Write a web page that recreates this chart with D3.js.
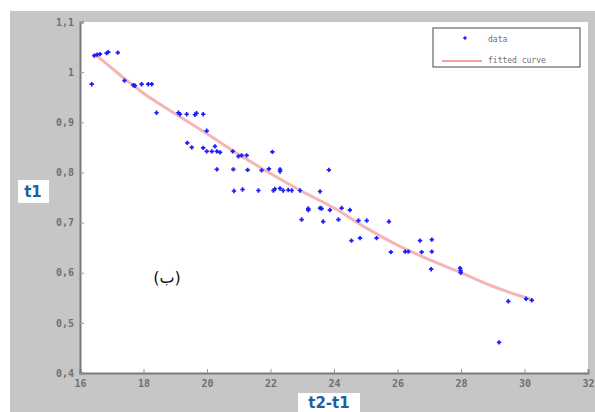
<!DOCTYPE html>
<html>
<head>
<meta charset="utf-8">
<script src="https://cdn.jsdelivr.net/npm/d3@7"></script>
<style>
  html, body { margin: 0; padding: 0; background: #fff; }
  svg { display: block; }
</style>
</head>
<body>
<div id="chart"></div>
<script>
// measured points (t2-t1, t1)
const dataX = [16.37, 16.45, 16.54, 16.63, 16.84, 16.89, 17.19, 17.40, 17.68, 17.73, 17.94, 18.15, 18.26,
    18.41, 19.10, 19.15, 19.36, 19.62, 19.67, 19.88, 19.99, 19.38, 19.52, 19.88, 19.99, 20.15, 20.25, 20.31,
    20.41, 20.81, 20.99, 21.25, 21.09, 20.31, 20.83, 21.28, 20.85, 21.12, 22.06, 21.72, 21.95, 22.30, 22.30,
    23.84, 21.62, 22.09, 22.14, 22.30, 22.40, 22.56, 22.67, 22.93, 23.56, 23.19, 23.19, 23.56, 23.61, 23.87,
    24.24, 24.50, 22.98, 23.66, 24.14, 24.77, 25.03, 25.73, 24.55, 24.82, 25.34, 25.79, 26.24, 26.34, 26.71,
    27.08, 26.76, 27.08, 27.06, 27.97, 27.99, 27.99, 29.49, 29.20, 30.05, 30.23];
const dataY = [0.976, 1.033, 1.035, 1.036, 1.038, 1.040, 1.039, 0.983, 0.974, 0.973, 0.976, 0.976, 0.976,
    0.919, 0.919, 0.916, 0.916, 0.915, 0.918, 0.916, 0.883, 0.859, 0.850, 0.849, 0.842, 0.842, 0.852, 0.842,
    0.840, 0.842, 0.832, 0.834, 0.834, 0.806, 0.806, 0.805, 0.763, 0.766, 0.841, 0.804, 0.807, 0.806, 0.802,
    0.805, 0.764, 0.764, 0.767, 0.768, 0.764, 0.765, 0.764, 0.764, 0.762, 0.728, 0.725, 0.729, 0.728, 0.725,
    0.729, 0.725, 0.706, 0.702, 0.706, 0.704, 0.704, 0.702, 0.664, 0.669, 0.669, 0.641, 0.642, 0.642, 0.664,
    0.666, 0.641, 0.642, 0.607, 0.609, 0.604, 0.600, 0.543, 0.461, 0.548, 0.545];

// fitted curve
const fitX = [16.5, 17, 17.5, 18, 19, 20, 21, 22, 23, 24, 25, 26, 27, 28, 29, 30, 30.2];
const fitY = [1.034, 1.008, 0.982, 0.958, 0.917, 0.877, 0.836, 0.798, 0.762, 0.729, 0.69, 0.655, 0.626, 0.6, 0.573, 0.551, 0.547];

const xTicks = [16, 18, 20, 22, 24, 26, 28, 30, 32];
const yTicks = [0.4, 0.5, 0.6, 0.7, 0.8, 0.9, 1, 1.1];

const W = 595, H = 412;
const margin = { top: 22, right: 7, bottom: 39, left: 80 };

const svg = d3.select("#chart").append("svg")
    .attr("width", W)
    .attr("height", H);

// grey figure background
svg.append("rect").attr("x", 10).attr("y", 11).attr("width", W - 10).attr("height", H - 11).attr("fill", "#c6c6c6");

const x = d3.scaleLinear().domain([16, 32]).range([margin.left, W - margin.right]);
const y = d3.scaleLinear().domain([0.4, 1.1]).range([H - margin.bottom, margin.top]);

svg.append("rect")
    .attr("x", margin.left).attr("y", margin.top)
    .attr("width", W - margin.left - margin.right)
    .attr("height", H - margin.top - margin.bottom)
    .attr("fill", "#fff");

const fmt = d => String(d).replace(".", ",");

const gx = svg.append("g")
    .attr("transform", `translate(0,${H - margin.bottom})`)
    .call(d3.axisBottom(x).tickValues(xTicks).tickSize(-4).tickPadding(7).tickFormat(d3.format("d")));
const gy = svg.append("g")
    .attr("transform", `translate(${margin.left},0)`)
    .call(d3.axisLeft(y).tickValues(yTicks).tickSize(-4).tickPadding(6).tickFormat(fmt));

[gx, gy].forEach(g => {
    g.select(".domain").attr("stroke", "#7a7a7a").attr("stroke-width", 2);
    g.selectAll(".tick line").attr("stroke", "#999");
    g.selectAll("text")
        .attr("fill", "#707070")
        .style("font-family", "'DejaVu Sans Mono', monospace")
        .style("font-weight", "bold")
        .style("font-size", "10px");
});

// fitted curve
const line = d3.line()
    .x((d, i) => x(fitX[i]))
    .y(d => y(d))
    .curve(d3.curveMonotoneX);

svg.append("path")
    .datum(fitY)
    .attr("d", line)
    .attr("fill", "none")
    .attr("stroke", "#f4a8a8")
    .attr("stroke-width", 3)
    .attr("stroke-opacity", 0.85);

// data markers
const plus = s => `M${-s},0H${s}M0,${-s}V${s}`;
svg.append("g")
    .selectAll("path")
    .data(dataX)
    .enter()
    .append("path")
    .attr("transform", (d, i) => `translate(${x(d)},${y(dataY[i])})`)
    .attr("d", plus(2.2))
    .attr("stroke", "#1a1aff")
    .attr("stroke-width", 1.7)
    .attr("fill", "none");

// legend
const lg = svg.append("g").attr("transform", "translate(433,28)");
lg.append("rect").attr("width", 147).attr("height", 39)
    .attr("fill", "#fff").attr("stroke", "#666").attr("stroke-width", 1.2);
lg.append("path").attr("transform", "translate(32,10)").attr("d", plus(1.8))
    .attr("stroke", "#1a1aff").attr("stroke-width", 1.5);
lg.append("line").attr("x1", 9).attr("x2", 49).attr("y1", 33).attr("y2", 33)
    .attr("stroke", "#f4a0a0").attr("stroke-width", 2);
lg.selectAll("text.lbl")
    .data(["data", "fitted curve"])
    .enter()
    .append("text")
    .attr("x", 55)
    .attr("y", (d, i) => 14 + i * 21)
    .text(d => d)
    .attr("fill", "#707070")
    .style("font-family", "'DejaVu Sans Mono', monospace")
    .style("font-size", "8px");

// axis titles in white boxes
svg.append("rect").attr("x", 18).attr("y", 180).attr("width", 31).attr("height", 23).attr("fill", "#fff");
svg.append("text").attr("x", 33).attr("y", 197).attr("text-anchor", "middle")
    .text("t1")
    .attr("fill", "#1f5f9f")
    .style("font-family", "'DejaVu Sans', sans-serif")
    .style("font-weight", "bold")
    .style("font-size", "15px");

svg.append("rect").attr("x", 298).attr("y", 393).attr("width", 62).attr("height", 19).attr("fill", "#fff");
svg.append("text").attr("x", 329).attr("y", 408).attr("text-anchor", "middle")
    .text("t2-t1")
    .attr("fill", "#1f5f9f")
    .style("font-family", "'DejaVu Sans', sans-serif")
    .style("font-weight", "bold")
    .style("font-size", "15px");

// panel tag
svg.append("text").attr("x", 167).attr("y", 283).attr("text-anchor", "middle")
    .text("(ب)")
    .attr("fill", "#111")
    .style("font-family", "'DejaVu Sans', sans-serif")
    .style("font-size", "16px");
</script>
</body>
</html>
